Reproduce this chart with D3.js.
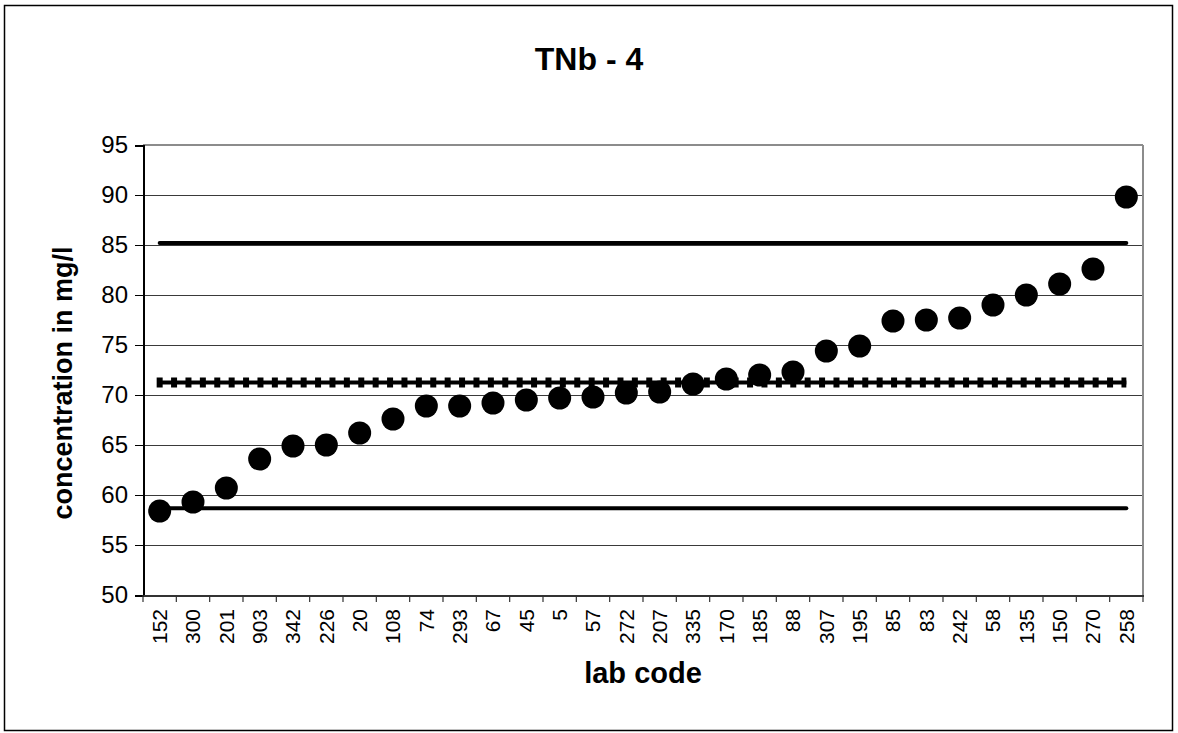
<!DOCTYPE html>
<html>
<head>
<meta charset="utf-8">
<script src="https://cdn.jsdelivr.net/npm/d3@7"></script>
<style>
  html, body { margin: 0; padding: 0; background: #fff; }
  svg { display: block; font-family: "Liberation Sans", Arial, sans-serif; }
</style>
</head>
<body>
<svg id="chart" width="1178" height="733"></svg>
<script>
const labCodes = ["152","300","201","903","342","226","20","108","74","293","67","45","5","57","272","207","335","170","185","88","307","195","85","83","242","58","135","150","270","258"];
const concentrations = [58.4,59.3,60.7,63.6,64.9,65.0,66.2,67.6,68.9,68.9,69.2,69.5,69.7,69.8,70.2,70.3,71.1,71.6,72.0,72.3,74.4,74.9,77.4,77.5,77.7,79.0,80.0,81.1,82.6,89.8];
const upperLimit = 85.2;
const assignedValue = 71.25;
const lowerLimit = 58.67;
const yTicks = [50,55,60,65,70,75,80,85,90,95];
const titleText = "TNb - 4";
const yTitle = "concentration in mg/l";
const xTitle = "lab code";

const svg = d3.select("#chart");
const plot = {left: 143, right: 1143, top: 145, bottom: 595};

// outer frame
svg.append("rect").attr("x", 4.5).attr("y", 5.5).attr("width", 1168).attr("height", 725)
  .attr("fill", "#fff").attr("stroke", "#000").attr("stroke-width", 1.5);

const x = d3.scaleBand().domain(labCodes).range([plot.left, plot.right]).paddingInner(0).paddingOuter(0);
const y = d3.scaleLinear().domain([50, 95]).range([plot.bottom, plot.top]);
const cx = d => x(d) + x.bandwidth() / 2;

// gridlines
svg.append("g").selectAll("line").data(yTicks.filter(t => t > 50 && t < 95)).join("line")
  .attr("x1", plot.left).attr("x2", plot.right)
  .attr("y1", d => y(d) + 0.5).attr("y2", d => y(d) + 0.5)
  .attr("stroke", "#3a3a3a").attr("stroke-width", 1).attr("shape-rendering", "crispEdges");

// plot area border (top & right grey)
svg.append("line").attr("x1", plot.left).attr("x2", plot.right).attr("y1", plot.top).attr("y2", plot.top)
  .attr("stroke", "#8c8c8c").attr("stroke-width", 2).attr("shape-rendering", "crispEdges");
svg.append("line").attr("x1", plot.right).attr("x2", plot.right).attr("y1", plot.top).attr("y2", plot.bottom)
  .attr("stroke", "#8c8c8c").attr("stroke-width", 2).attr("shape-rendering", "crispEdges");

// y axis
const yAxis = d3.axisLeft(y).tickValues(yTicks).tickSize(8).tickPadding(7).tickFormat(d3.format("d"));
const gy = svg.append("g").attr("transform", `translate(${plot.left},0)`).call(yAxis);
gy.select(".domain").attr("stroke", "#000").attr("stroke-width", 2).attr("shape-rendering", "crispEdges");
gy.selectAll(".tick line").attr("stroke", "#000").attr("stroke-width", 1).attr("shape-rendering", "crispEdges");
gy.selectAll(".tick text").attr("font-size", 24).attr("fill", "#000")
  .attr("font-family", "'Liberation Sans', Arial, sans-serif");

// x axis
const xAxis = d3.axisBottom(x).tickSize(0).tickPadding(0);
const gx = svg.append("g").attr("transform", `translate(0,${plot.bottom})`).call(xAxis);
gx.select(".domain").attr("stroke", "#333").attr("stroke-width", 2).attr("shape-rendering", "crispEdges");
gx.selectAll(".tick text")
  .attr("font-size", 21).attr("fill", "#000")
  .attr("font-family", "'Liberation Sans', Arial, sans-serif")
  .attr("text-anchor", "end").attr("dy", "0.35em")
  .attr("transform", "translate(0,14) rotate(-90)")
  .attr("x", 0).attr("y", 0);
// boundary ticks between categories
const bounds = labCodes.map(d => x(d)).concat([plot.right]);
svg.append("g").selectAll("line").data(bounds).join("line")
  .attr("x1", d => d).attr("x2", d => d)
  .attr("y1", plot.bottom).attr("y2", plot.bottom + 7)
  .attr("stroke", "#333").attr("stroke-width", 1.2);

// reference lines
const xStart = cx(labCodes[0]), xEnd = cx(labCodes[labCodes.length - 1]);
[upperLimit, lowerLimit].forEach(v => {
  svg.append("line").attr("x1", xStart).attr("x2", xEnd).attr("y1", y(v)).attr("y2", y(v))
    .attr("stroke", "#000").attr("stroke-width", 4).attr("stroke-linecap", "round");
});
svg.append("line").attr("x1", xStart).attr("x2", xEnd).attr("y1", y(assignedValue)).attr("y2", y(assignedValue))
  .attr("stroke", "#000").attr("stroke-width", 4);
svg.append("line").attr("x1", xStart - 3).attr("x2", xEnd).attr("y1", y(assignedValue)).attr("y2", y(assignedValue))
  .attr("stroke", "#000").attr("stroke-width", 10).attr("stroke-dasharray", "6,8.4");

// points
svg.append("g").selectAll("circle").data(labCodes.map((c, i) => ({c, v: concentrations[i]}))).join("circle")
  .attr("cx", d => cx(d.c)).attr("cy", d => y(d.v)).attr("r", 11.5).attr("fill", "#000");

// titles
svg.append("text").attr("x", 589).attr("y", 70).attr("text-anchor", "middle")
  .attr("font-size", 32).attr("font-weight", "bold").text(titleText);
svg.append("text").attr("transform", "translate(72,383) rotate(-90)").attr("text-anchor", "middle")
  .attr("font-size", 27).attr("font-weight", "bold").text(yTitle);
svg.append("text").attr("x", 643).attr("y", 683).attr("text-anchor", "middle")
  .attr("font-size", 29).attr("font-weight", "bold").text(xTitle);
</script>
</body>
</html>
